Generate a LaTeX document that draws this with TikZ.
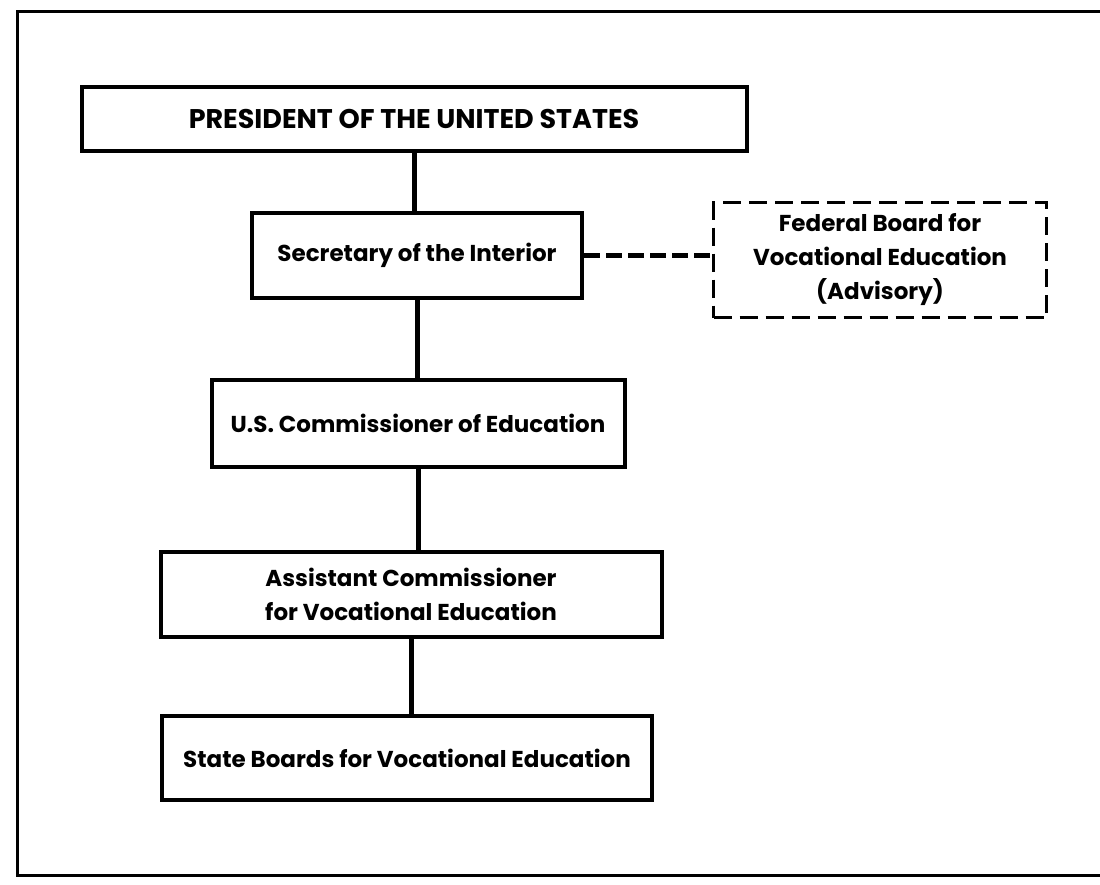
\documentclass[tikz,border=0pt]{standalone}
\usepackage{fontspec}
\setmainfont{Poppins}
\begin{document}
\begin{tikzpicture}[x=1pt,y=-1pt,
  box/.style={draw, line width=4pt, fill=white, inner sep=0pt, align=center,
    font=\fontsize{23}{34}\selectfont\bfseries},
  dbox/.style={box, line width=3.5pt, dash pattern=on 18pt off 8pt},
  link/.style={line width=5pt},
  dlink/.style={line width=5pt, dash pattern=on 16pt off 6pt}]
\useasboundingbox (0,0) rectangle (1100,884);
\draw[line width=3pt] (17,11) rectangle (1115,875);
\node[box, minimum width=665, minimum height=64, font=\fontsize{27}{34}\selectfont\bfseries] (pres) at (414,119) {PRESIDENT OF THE UNITED STATES};
\node[box, minimum width=330, minimum height=85] (sec) at (417,255) {Secretary of the Interior};
\node[dbox, minimum width=333, minimum height=115] (fed) at (880,260) {Federal Board for\\Vocational Education\\(Advisory)};
\node[box, minimum width=413, minimum height=87] (com) at (418,423) {U.S. Commissioner of Education};
\node[box, minimum width=501, minimum height=85] (asst) at (411,594) {Assistant Commissioner\\for Vocational Education};
\node[box, minimum width=490, minimum height=84] (state) at (407,758) {State Boards for Vocational Education};
\draw[link] (pres.south) -- (pres.south |- sec.north);
\draw[link] (sec.south) -- (sec.south |- com.north);
\draw[link] (com.south) -- (com.south |- asst.north);
\draw[link] (asst.south) -- (asst.south |- state.north);
\draw[dlink] (sec.east) -- (fed.west |- sec.east);
\end{tikzpicture}
\end{document}
